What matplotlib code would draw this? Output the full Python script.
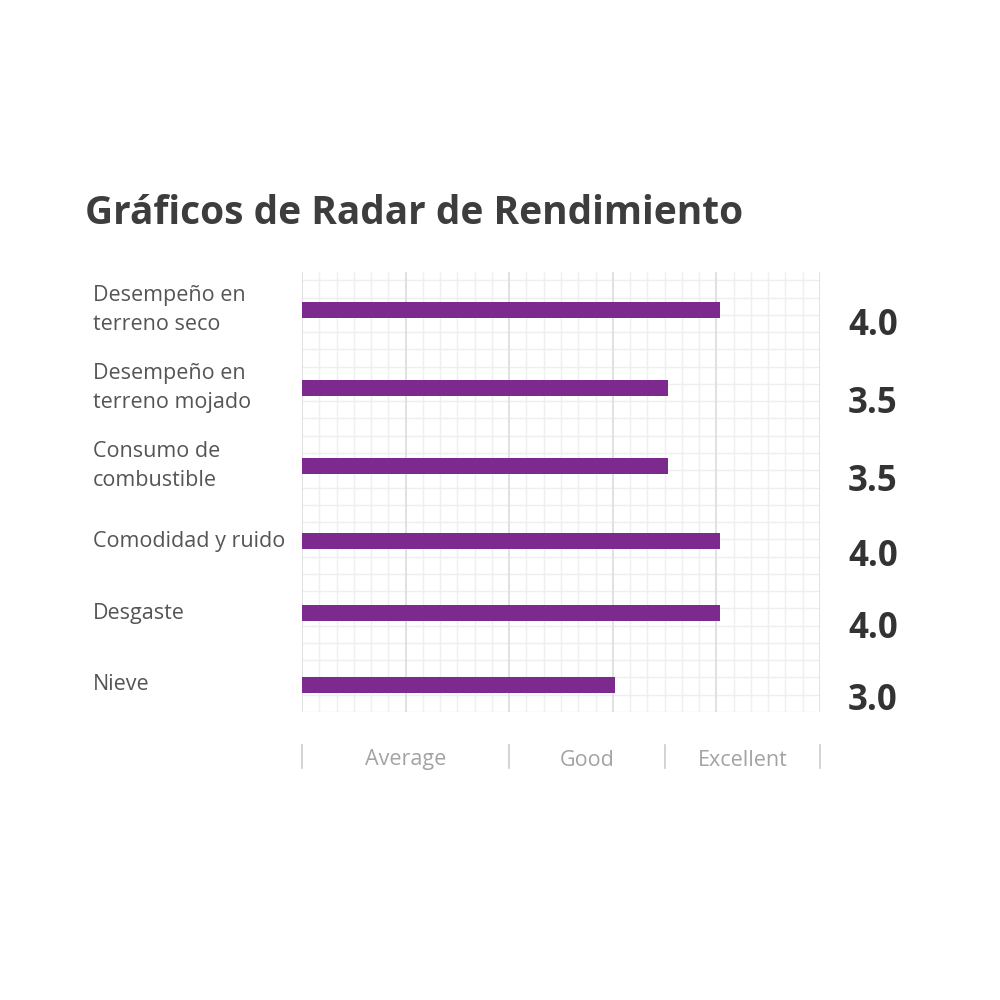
import numpy as np
import matplotlib
matplotlib.use("Agg")
import matplotlib.pyplot as plt
import matplotlib.transforms as transforms

plt.rcParams['font.family'] = ['Open Sans', 'DejaVu Sans']

# data
Categories = ["Desempeño en\nterreno seco", "Desempeño en\nterreno mojado", "Consumo de\ncombustible",
              "Comodidad y ruido", "Desgaste", "Nieve"]
Scores = [4.0, 3.5, 3.5, 4.0, 4.0, 3.0]
BandEdges = [0, 2, 3.5, 5]
BandLabels = ["Average", "Good", "Excellent"]
ScaleMax = 5.0

BARCOLOUR = "#7D2A8E"

fig = plt.figure(figsize=(10, 10), dpi=100)
# y axis in pixel-like units, 0 at the top of the grid
ax = fig.add_axes([0.302, 0.288, 0.518, 0.44])
XMAX = 4.96
ax.set_xlim(0, XMAX)
ax.set_ylim(440, 0)
ax.axis("off")
fracx = transforms.blended_transform_factory(ax.transAxes, ax.transData)

# rows get a bit more room when the label has two lines
lines = [c.count("\n") + 1 for c in Categories]
ypos = [38.0]
for i in range(1, len(Categories)):
    ypos.append(ypos[-1] + 66 + 3 * (lines[i - 1] + lines[i]))

# square grid
cell = 440 / 25.48
for k in range(26):
    ax.axhline(440 - k * cell, color="#efefef", lw=1, zorder=0)
for k in range(31):
    major = k % 6 == 0
    ax.plot([k / 30, k / 30], [0, 440], transform=fracx,
            color="#dcdcdc" if major else "#efefef", lw=1.2 if major else 1, zorder=0)

ax.barh(ypos, Scores, height=16, color=BARCOLOUR, zorder=2)

for y, label, score in zip(ypos, Categories, Scores):
    fig.text(0.093, 1 - (272 + y) / 1000, label, ha="left", va="center", fontsize=15.5,
             color="#555555", linespacing=1.45)
    ax.text(1.054, y + 16, f"{score:.1f}", ha="left", va="center", fontsize=25,
            fontweight="bold", color="#333333", clip_on=False, transform=fracx)

# rating bands below the grid
for e in BandEdges:
    ax.plot([e / ScaleMax] * 2, [473, 496], color="#cccccc", lw=1.2, clip_on=False, transform=fracx)
for lo, hi, name in zip(BandEdges[:-1], BandEdges[1:], BandLabels):
    ax.text((lo + hi) / 2 / ScaleMax, 488, name, ha="center", va="center", fontsize=15.5,
            color="#a3a3a3", clip_on=False, transform=fracx)

fig.text(0.085, 0.786, "Gráficos de Radar de Rendimiento", ha="left", va="center",
         fontsize=28, fontweight="bold", color="#3d3d3d")

plt.savefig("out.png", facecolor="white")
